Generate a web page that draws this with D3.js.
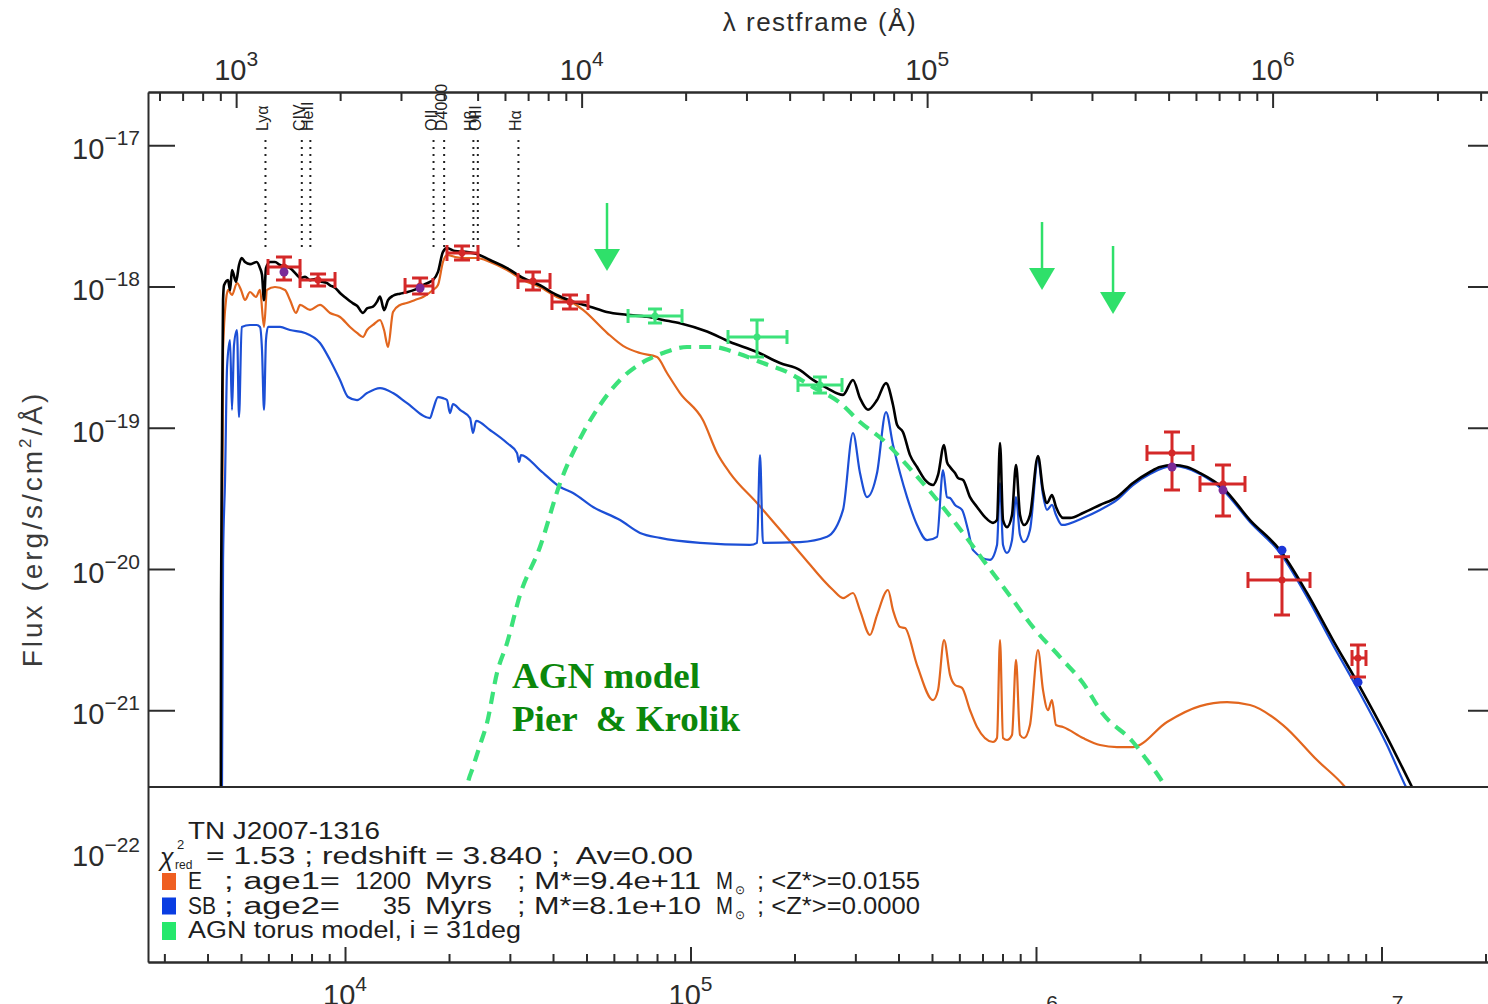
<!DOCTYPE html>
<html>
<head>
<meta charset="utf-8">
<script src="https://cdn.jsdelivr.net/npm/d3@7"></script>
<style>
  html, body { margin: 0; padding: 0; background: #fff; }
  svg { display: block; }
</style>
</head>
<body>
<svg id="chart" width="1488" height="1004"></svg>
<script>
// ---------------------------------------------------------------------------
// SED fit of TN J2007-1316: elliptical + starburst stellar populations plus an
// AGN torus component. Wavelengths are observed-frame Angstrom, fluxes are in
// units of FLUX_UNIT erg/s/cm^2/A.
// ---------------------------------------------------------------------------
const FLUX_UNIT = 1e-20;
const REDSHIFT = 3.840;
const CHI2_RED = 1.53;
const AV = 0.00;
const SOURCE_NAME = 'TN J2007-1316';

const componentNames = ['E', 'SB'];
const componentAgeLabels = ['age1=', 'age2='];
const componentAges = [1200, 35];
const componentMasses = ['9.4e+11', '8.1e+10'];
const componentMetallicity = ['0.0155', '0.0000'];
const torusInclination = 31;

// total model (black)
const totalModel = [
  [4370,0.017],[4377,0.6],[4406,8.2],[4436,80],[4465,102],[4586,111],[4647,94],[4709,131],[4837,108],
  [4934,142],[5023,159],[5135,149],[5309,144],[5551,149],[5675,135],[5751,121],[5828,80],[5905,135],
  [6065,149],[6271,149],[6484,142],[6931,135],[7248,121],[7410,115],[7660,117],[7920,111],[8188,113],
  [8464,109],[8851,106],[9049,102],[9356,98],[9672,90],[10000,84],[10548,76],[10832,73],[11274,65],
  [11582,70],[12050,72],[12377,78],[12627,85],[12971,68],[13320,80],[13770,86],[14425,89],[15087,91],
  [15945,95],[16820,102],[17620,108],[17970,111],[18580,127],[19210,176],[19730,187],[20820,178],
  [22250,176],[24060,170],[26280,154],[29440,135],[32750,115],[36670,102],[41010,87],[45700,78],
  [51190,72],[57220,66],[65380,63],[74830,61],[83250,58],[93250,55],[111620,48],[130100,40.5],
  [155780,34.4],[181550,28.7],[207490,25.6],[226210,21.8],[248460,19.1],[276330,17.1],[295310,21.8],
  [309430,16.2],[326400,13.4],[346600,15.7],[368030,20.7],[385640,14.5],[396080,10.5],[412250,9.3],
  [431900,6.4],[452560,5.27],[477300,4.27],[503490,3.93],[520600,4.63],[541780,7.55],[552600,5.72],
  [563870,5.27],[583010,4.78],[594700,4.41],[614910,4.27],[644200,3.23],[675000,2.75],[711900,2.33],
  [750870,2.12],[771180,2.22],[786780,7.8],[802700,2.22],[824400,1.98],[852200,2.41],[875300,5.45],
  [898950,2.41],[923270,2.05],[960700,2.41],[1.0134e6,6.31],[1.0478e6,3.62],[1.076e6,2.93],
  [1.1125e6,3.34],[1.1426e6,2.75],[1.1971e6,2.30],[1.2543e6,2.30],[1.3677e6,2.49],[1.5318e6,2.84],
  [1.7158e6,3.23],[1.9086e6,4.06],[2.1377e6,4.86],[2.2851e6,5.27],[2.492e6,5.45],[2.7353e6,5.27],
  [2.9832e6,4.78],[3.4775e6,3.75],[4.163e6,2.22],[5.0838e6,1.36],[6.087e6,0.676],[7.2378e6,0.314],
  [8.666e6,0.146],[1.0373e7,0.0646],[1.2256e7,0.0286],[1.2926e7,0.0221]
];

// old elliptical population (orange)
const ellipticalModel = [
  [4380,0.0167],[4406,0.6],[4436,35.5],[4525,80.3],[4586,94.5],[4709,87.1],[4868,105.9],[5000,94.5],
  [5135,80.3],[5309,91.4],[5526,84.3],[5675,94.5],[5828,51.7],[5946,94.5],[6271,99.2],[6704,94.5],
  [6931,80.3],[7214,64.9],[7410,74.0],[7920,68.2],[8464,74.0],[9049,64.9],[9672,60.8],[10339,51.7],
  [10832,46.9],[11274,43.9],[11582,49.2],[12050,53.4],[12627,57.9],[12971,49.2],[13320,37.3],[13770,66],
  [14425,74.0],[15087,76.4],[15945,80.3],[16820,84.3],[17970,94.5],[18580,102.5],[19210,149.1],
  [19730,167.1],[20820,161.7],[22250,159.1],[24060,159.1],[26280,149.1],[29440,130.9],[32750,111.2],
  [36670,99.2],[41010,84.3],[45700,76.4],[48850,68.2],[57320,47],[63790,38],[71430,33.8],[79990,31.7],
  [85500,24.4],[93250,17.6],[108690,11.3],[119340,6.63],[130100,4.78],[155780,2.93],[207490,1.30],
  [258560,0.71],[276330,0.623],[295310,0.676],[309430,0.51],[330740,0.341],[346600,0.472],[372900,0.71],
  [385640,0.51],[404080,0.388],[417700,0.382],[452560,0.209],[503490,0.118],[520600,0.139],[541780,0.314],
  [563870,0.178],[583010,0.151],[610820,0.144],[644200,0.100],[675000,0.0761],[750870,0.0596],
  [771180,0.0636],[786780,0.314],[802700,0.0636],[824400,0.0616],[852200,0.0668],[875300,0.227],
  [898950,0.0668],[923270,0.0636],[960700,0.0786],[1.0134e6,0.267],[1.0478e6,0.139],[1.0832e6,0.100],
  [1.1125e6,0.118],[1.1426e6,0.0786],[1.1971e6,0.0761],[1.3677e6,0.0636],[1.5318e6,0.0568],
  [1.7158e6,0.0549],[1.9086e6,0.0549],[2.3945e6,0.0826],[2.9832e6,0.107],[3.5717e6,0.114],
  [4.163e6,0.109],[5.1867e6,0.0786],[6.5066e6,0.0444],[7.8434e6,0.0286],[8.383e6,0.0231]
];

// young starburst population (blue)
const starburstModel = [
  [4400,0.0167],[4436,1.16],[4495,4.27],[4556,26.9],[4647,41.8],[4709,13.4],[4772,38.5],[4868,49.2],
  [4934,11.9],[5023,51.7],[5309,53.4],[5551,53.4],[5675,51.7],[5751,35.5],[5828,13.4],[5905,41.8],
  [5986,51.7],[6484,51.7],[6931,49.2],[7660,46.9],[8464,39.8],[9049,30.2],[9672,21.8],[10202,16.5],
  [10832,15.7],[11582,17.6],[12627,19.1],[13770,17.6],[15087,15.0],[17620,11.7],[17970,13.4],
  [18580,16.5],[19210,16.2],[19730,15.7],[20130,12.7],[20540,14.7],[21520,13.4],[23010,11.7],
  [23470,9.18],[23950,11.2],[26280,9.64],[29440,7.80],[31460,6.63],[31880,5.72],[32310,6.41],
  [36670,5.02],[41930,3.81],[45700,3.45],[52220,2.75],[62530,2.22],[71430,1.80],[81600,1.66],
  [106530,1.53],[148690,1.48],[155780,1.53],[158930,6.41],[162110,1.53],[207490,1.55],[248460,1.69],
  [276330,2.62],[295310,9.18],[309430,4.78],[324240,3.23],[346600,4.78],[368030,12.9],[385640,7.55],
  [404080,4.78],[423370,3.23],[452560,2.05],[483740,1.60],[517130,1.69],[538170,5.02],[552600,3.23],
  [563870,3.18],[583010,2.84],[610820,2.62],[635700,1.89],[657300,1.36],[736090,1.16],[771180,1.48],
  [786780,4.06],[802700,1.48],[824400,1.30],[852200,1.60],[875300,3.23],[898950,1.74],[923270,1.55],
  [960700,1.89],[1.0134e6,5.91],[1.0478e6,3.34],[1.076e6,2.62],[1.1125e6,2.84],[1.1426e6,2.41],
  [1.1894e6,2.05],[1.3677e6,2.30],[1.5318e6,2.62],[1.7158e6,3.08],[1.9086e6,3.93],[2.1377e6,4.71],
  [2.492e6,5.36],[2.9832e6,4.71],[3.4775e6,3.62],[4.163e6,2.15],[5.0838e6,1.30],[6.087e6,0.634],
  [7.2378e6,0.290],[8.666e6,0.132],[1.0373e7,0.0568],[1.1774e7,0.0286],[1.2422e7,0.0221]
];

// AGN torus model (green, dashed)
const agnTorusModel = [
  [22250,0.0231],[22550,0.0286],[23470,0.0396],[24590,0.0568],[25760,0.0812],[27540,0.184],[29440,0.299],
  [32100,0.655],[36670,1.43],[41930,4.06],[48850,9.18],[54720,14.5],[62530,21.8],[74830,30.2],
  [83250,33.8],[97700,37.3],[116200,37.3],[136330,33.8],[162110,28.7],[190230,24.8],[226210,19.4],
  [270800,15.0],[309430,10.98],[360800,8.19],[440640,4.86],[503490,3.34],[602600,1.92],[702560,1.16],
  [841000,0.644],[980170,0.388],[1.1737e6,0.238],[1.3677e6,0.156],[1.5629e6,0.0941],[1.9086e6,0.0596],
  [2.0953e6,0.0444],[2.2851e6,0.0331],[2.4428e6,0.0251]
];

// photometry: [lambda, lambdaLo, lambdaHi, flux, fluxLo, fluxHi]
const photometry = [
  [6658, 5986, 7410, 137.4, 111.2, 161.7],
  [8355, 7410, 9356, 111.2, 100.8, 122.6],
  [16490, 14920, 17970, 100.8, 88.5, 114.9],
  [21810, 19730, 24260, 172.7, 154, 193.5],
  [35000, 31670, 39210, 109.4, 94.5, 126.7],
  [44800, 39720, 50510, 77.7, 69.3, 87.1],
  [2.4755e6, 2.0953e6, 2.847e6, 6.63, 3.62, 9.33],
  [3.4775e6, 2.9832e6, 4.0264e6, 4.00, 2.37, 5.45],
  [5.1522e6, 4.1078e6, 6.2101e6, 0.836, 0.472, 1.22],
  [8.5507e6, 8.217e6, 9.018e6, 0.2344, 0.172, 0.290]
];
const midIrPhotometry = [
  [78930, 65950, 94500, 61.8, 55.2, 69.3],
  [155780, 128400, 190230, 43.9, 31.7, 57.9],
  [237000, 204700, 274500, 20.1, 17.6, 22.9]
];
// upper limits: [lambda, flux limit]
const upperLimits = [[57320, 390], [1.0409e6, 286], [1.6711e6, 193.5]];
// model fluxes in the photometric bands
const bandModelTotal = [[6658, 126.7], [16490, 97.6], [2.4755e6, 5.27], [3.4775e6, 3.62]];
const bandModelStarburst = [[5.1522e6, 1.36], [8.5507e6, 0.158]];

// rest-frame spectral features
const featureNames = ['Lyα', 'CIV', 'HeII', 'OII', 'D4000', 'Hβ', 'OIII', 'Hα'];
const featureRest = [1216, 1549, 1640, 3727, 4000, 4861, 5007, 6563];

// axis ticks (decade exponents)
const restExponents = [3, 4, 5, 6];
const obsExponents = [4, 5, 6, 7];
const fluxExponents = [-17, -18, -19, -20, -21, -22];

// ---------------------------------------------------------------------------
const svg = d3.select('#chart');
const X0 = 148, X1 = 1490, Y0 = 92, Y1 = 962, YSPLIT = 787;
const INK = '#2c2c2c';
const C_TOTAL = '#000000', C_E = '#e2661e', C_SB = '#1c4fd6', C_AGN = '#3ce27a';
const C_PHOT = '#d42828', C_IR = '#3ce27a', C_LIMIT = '#2fe06a';
const SANS = "'Liberation Sans', Arial, Helvetica, sans-serif";

const x = d3.scaleLog().domain([2690, 2.061e7]).range([X0, X1]);
const xRest = d3.scaleLog().domain(x.domain().map(v => v / (1 + REDSHIFT))).range([X0, X1]);
const y = d3.scaleLog().domain([1.651e-23, 2.382e-17]).range([Y1, Y0]);
const fy = f => y(f * FLUX_UNIT);

function minorTicks([lo, hi]) {
  const out = [];
  for (let e = Math.floor(Math.log10(lo)); e <= Math.ceil(Math.log10(hi)); e++) {
    for (let k = 2; k <= 9; k++) {
      const v = k * Math.pow(10, e);
      if (v > lo && v < hi) out.push(v);
    }
  }
  return out;
}

// clip region for the model curves
svg.append('defs').append('clipPath').attr('id', 'plotClip')
  .append('rect').attr('x', X0).attr('y', Y0).attr('width', X1 - X0).attr('height', YSPLIT - Y0);

const curves = svg.append('g').attr('clip-path', 'url(#plotClip)')
  .attr('fill', 'none').attr('stroke-linejoin', 'round').attr('stroke-linecap', 'round');
const line = d3.line().x(d => x(d[0])).y(d => fy(d[1])).curve(d3.curveMonotoneX);

curves.append('path').datum(ellipticalModel).attr('d', line).attr('stroke', C_E).attr('stroke-width', 2.2);
curves.append('path').datum(starburstModel).attr('d', line).attr('stroke', C_SB).attr('stroke-width', 2.2);
curves.append('path').datum(totalModel).attr('d', line).attr('stroke', C_TOTAL).attr('stroke-width', 2.6);
curves.append('path').datum(agnTorusModel).attr('d', line).attr('stroke', C_AGN)
  .attr('stroke-width', 4.2).attr('stroke-dasharray', '12,8').attr('stroke-linecap', 'butt');

// spectral feature markers
const features = svg.append('g');
featureRest.forEach((lr, i) => {
  const lx = xRest(lr);
  features.append('line').attr('x1', lx).attr('x2', lx).attr('y1', 140).attr('y2', 250)
    .attr('stroke', '#222').attr('stroke-width', 2).attr('stroke-dasharray', '2,5');
  features.append('text')
    .attr('transform', `translate(${lx + 3},131) rotate(-90)`)
    .attr('font-family', SANS).attr('font-size', 16).attr('fill', '#222')
    .text(featureNames[i]);
});

// error bars
function drawErrorBars(rows, color, cap) {
  const g = svg.append('g');
  rows.forEach(([lam, lamLo, lamHi, f, fLo, fHi]) => {
    const cx = x(lam), cy = fy(f), xl = x(lamLo), xh = x(lamHi), yl = fy(fLo), yh = fy(fHi);
    g.append('path')
      .attr('d', `M${xl},${cy}H${xh}M${cx},${yh}V${yl}` +
                 `M${xl},${cy - cap}V${cy + cap}M${xh},${cy - cap}V${cy + cap}` +
                 `M${cx - cap},${yh}H${cx + cap}M${cx - cap},${yl}H${cx + cap}`)
      .attr('stroke', color).attr('stroke-width', 3).attr('fill', 'none');
    g.append('circle').attr('cx', cx).attr('cy', cy).attr('r', 3.5).attr('fill', color);
  });
}
drawErrorBars(photometry, C_PHOT, 8);
drawErrorBars(midIrPhotometry, C_IR, 7);

// model values in the bands
const bandDots = svg.append('g');
bandModelTotal.forEach(([lam, f]) =>
  bandDots.append('circle').attr('cx', x(lam)).attr('cy', fy(f)).attr('r', 4.5).attr('fill', '#7a2a98'));
bandModelStarburst.forEach(([lam, f]) =>
  bandDots.append('circle').attr('cx', x(lam)).attr('cy', fy(f)).attr('r', 4.5).attr('fill', '#1c36d8'));

// upper limits
const limits = svg.append('g');
upperLimits.forEach(([lam, f]) => {
  const ax = x(lam), ay = fy(f);
  limits.append('line').attr('x1', ax).attr('x2', ax).attr('y1', ay).attr('y2', ay + 48)
    .attr('stroke', C_LIMIT).attr('stroke-width', 2.5);
  limits.append('path').attr('d', `M${ax - 13},${ay + 46}L${ax + 13},${ay + 46}L${ax},${ay + 68}Z`)
    .attr('fill', C_LIMIT);
});

// annotation
const note = svg.append('g').attr('font-family', "'Liberation Serif', 'Times New Roman', serif")
  .attr('font-weight', 'bold').attr('font-size', 35).attr('fill', '#0b870b');
note.append('text').attr('x', 512).attr('y', 688).attr('textLength', 188).attr('lengthAdjust', 'spacingAndGlyphs').text('AGN model');
note.append('text').attr('x', 512).attr('y', 731).attr('textLength', 228).attr('lengthAdjust', 'spacingAndGlyphs')
  .attr('xml:space', 'preserve').style('white-space', 'pre').text('Pier  & Krolik');

// ---------------------------------------------------------------------------
// axes
function styleAxis(g) {
  g.select('path.domain').attr('stroke', INK).attr('stroke-width', 2);
  g.selectAll('.tick line').attr('stroke', INK).attr('stroke-width', 2);
  g.selectAll('.tick text').remove();
}
const obsMajor = obsExponents.map(e => Math.pow(10, e));
const restMajor = restExponents.map(e => Math.pow(10, e));
const fluxMajor = fluxExponents.map(e => Math.pow(10, e));
const fluxTicked = fluxMajor.filter(v => y(v) < YSPLIT);

svg.append('g').attr('transform', `translate(0,${Y1})`)
  .call(d3.axisBottom(x).tickValues(minorTicks(x.domain())).tickSize(-8).tickSizeOuter(0).tickFormat('')).call(styleAxis);
svg.append('g').attr('transform', `translate(0,${Y1})`)
  .call(d3.axisBottom(x).tickValues(obsMajor).tickSize(-15).tickSizeOuter(0).tickFormat('')).call(styleAxis);
svg.append('g').attr('transform', `translate(0,${Y0})`)
  .call(d3.axisTop(xRest).tickValues(minorTicks(xRest.domain())).tickSize(-9).tickSizeOuter(0).tickFormat('')).call(styleAxis);
svg.append('g').attr('transform', `translate(0,${Y0})`)
  .call(d3.axisTop(xRest).tickValues(restMajor).tickSize(-16).tickSizeOuter(0).tickFormat('')).call(styleAxis);
svg.append('g').attr('transform', `translate(${X0},0)`)
  .call(d3.axisLeft(y).tickValues(fluxTicked).tickSize(-27).tickSizeOuter(0).tickFormat('')).call(styleAxis);
svg.append('g').attr('transform', `translate(${X1},0)`)
  .call(d3.axisRight(y).tickValues(fluxTicked).tickSize(-22).tickSizeOuter(0).tickFormat('')).call(styleAxis);

// separator between the plotting area and the fit summary
svg.append('line').attr('x1', X0).attr('x2', X1).attr('y1', YSPLIT).attr('y2', YSPLIT)
  .attr('stroke', INK).attr('stroke-width', 2);

// power-of-ten labels
function powerLabel(px, py, exp, anchor) {
  const t = svg.append('text').attr('x', px).attr('y', py).attr('text-anchor', anchor)
    .attr('font-family', SANS).attr('font-size', 29).attr('fill', INK);
  t.append('tspan').text('10');
  t.append('tspan').attr('dy', -14).attr('font-size', 21).text(String(exp).replace('-', '\u2212'));
}
fluxExponents.forEach(e => powerLabel(140, y(Math.pow(10, e)) + 14, e, 'end'));
restExponents.forEach(e => powerLabel(xRest(Math.pow(10, e)), 80, e, 'middle'));
// the two right-hand observed-frame labels sit lower and run off the bottom edge
obsExponents.forEach(e => powerLabel(x(Math.pow(10, e)), e >= 6 ? 1024 : 1005, e, 'middle'));

// axis titles
svg.append('text').attr('x', 820).attr('y', 31).attr('text-anchor', 'middle')
  .attr('font-family', SANS).attr('font-size', 26).attr('letter-spacing', 1.5).attr('fill', INK).text('λ restframe (Å)');
const yTitle = svg.append('text').attr('transform', 'translate(42,529) rotate(-90)').attr('text-anchor', 'middle')
  .attr('font-family', SANS).attr('font-size', 28).attr('letter-spacing', 3).attr('fill', '#3a3a3a');
yTitle.append('tspan').text('Flux (erg/s/cm');
yTitle.append('tspan').attr('dy', -11).attr('font-size', 17).text('2');
yTitle.append('tspan').attr('dy', 11).text('/Å)');

// ---------------------------------------------------------------------------
// fit summary block
const legend = svg.append('g').attr('font-family', SANS).attr('font-size', 23).attr('fill', '#1e1e1e');
function seg(px, py, str, len, anchor) {
  const t = legend.append('text').attr('x', px).attr('y', py)
    .attr('xml:space', 'preserve').style('white-space', 'pre').text(str);
  if (len) t.attr('textLength', len).attr('lengthAdjust', 'spacingAndGlyphs');
  if (anchor) t.attr('text-anchor', anchor);
  return t;
}
seg(188, 839, SOURCE_NAME, 192);
seg(160, 866, 'χ').attr('font-size', 25).attr('font-style', 'italic');
seg(177, 849, '2').attr('font-size', 13);
seg(175, 869, 'red').attr('font-size', 12);
seg(206, 864, `= ${CHI2_RED.toFixed(2)} ; redshift = ${REDSHIFT.toFixed(3)} ;  Av=${AV.toFixed(2)}`, 487);

const swatchColors = ['#ef5f22', '#0a3de2', '#25e86c'];
componentNames.forEach((name, i) => {
  const by = 889 + 24.5 * i;
  legend.append('rect').attr('x', 162).attr('y', by - 16).attr('width', 14).attr('height', 17).attr('fill', swatchColors[i]);
  seg(188, by, name, name.length * 14);
  seg(224, by, `; ${componentAgeLabels[i]}`, 116);
  seg(411, by, String(componentAges[i]), String(componentAges[i]).length * 14, 'end');
  seg(425, by, 'Myrs', 67);
  seg(517, by, `; M*=${componentMasses[i]}`, 184);
  seg(716, by, 'M', 17);
  seg(735, by + 5, '⊙').attr('font-size', 12);
  seg(757, by, `; <Z*>=${componentMetallicity[i]}`, 163);
});
const agnY = 889 + 24.5 * 2;
legend.append('rect').attr('x', 162).attr('y', agnY - 16).attr('width', 14).attr('height', 18).attr('fill', swatchColors[2]);
seg(188, agnY, `AGN torus model, i = ${torusInclination}deg`, 333);
</script>
</body>
</html>
